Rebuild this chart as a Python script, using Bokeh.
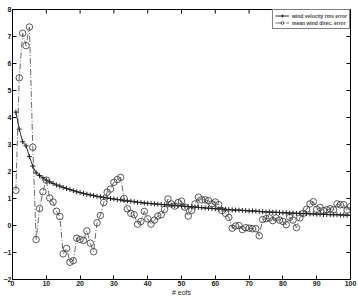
from bokeh.plotting import figure
from bokeh.models import Legend, LegendItem, FixedTicker, Range1d, ColumnDataSource
from bokeh.embed import file_html
from bokeh.resources import INLINE

n_eofs = list(range(1, 101))
vel_err = [4.2, 3.57, 3.1, 2.95, 2.55, 2.2, 1.95, 1.85, 1.76, 1.68,
           1.62, 1.56, 1.5, 1.46, 1.41, 1.37, 1.33, 1.29, 1.25, 1.22,
           1.19, 1.16, 1.13, 1.11, 1.08, 1.06, 1.04, 1.02, 1.0, 0.98,
           0.96, 0.95, 0.93, 0.91, 0.9, 0.88, 0.86, 0.85, 0.83, 0.82,
           0.81, 0.8, 0.79, 0.78, 0.77, 0.76, 0.75, 0.74, 0.73, 0.72,
           0.71, 0.7, 0.69, 0.68, 0.67, 0.66, 0.65, 0.64, 0.63, 0.62,
           0.61, 0.61, 0.6, 0.59, 0.58, 0.57, 0.57, 0.56, 0.55, 0.54,
           0.54, 0.53, 0.52, 0.51, 0.5, 0.5, 0.49, 0.49, 0.48, 0.47,
           0.47, 0.46, 0.46, 0.45, 0.45, 0.44, 0.44, 0.43, 0.43, 0.42,
           0.42, 0.41, 0.41, 0.4, 0.4, 0.4, 0.39, 0.39, 0.38, 0.38]
dir_err = [1.3, 5.47, 7.12, 6.66, 7.35, 2.9, -0.52, 0.63, 1.25, 1.68,
           1.02, 0.87, 0.53, 0.33, -1.05, -0.85, -1.36, -1.3, -0.47, -0.52,
           -0.55, -0.2, -0.65, -0.97, 0.1, 0.37, 0.85, 1.23, 1.35, 1.6,
           1.7, 1.78, 1.0, 0.62, 0.45, 0.4, 0.05, 0.15, 0.52, 0.25,
           0.05, 0.2, 0.35, 0.4, 0.6, 0.98, 0.8, 0.72, 0.85, 0.9,
           0.68, 0.35, 0.56, 0.8, 1.05, 0.95, 0.95, 0.92, 0.8, 0.87,
           0.77, 0.55, 0.45, 0.3, -0.1, -0.02, 0.0, -0.15, -0.08, -0.1,
           -0.12, -0.12, -0.38, 0.22, 0.25, 0.28, 0.18, 0.28, 0.2, 0.15,
           0.03, 0.3, 0.2, -0.08, 0.28, 0.45, 0.6, 0.8, 0.88, 0.6,
           0.67, 0.55, 0.58, 0.62, 0.58, 0.8, 0.77, 0.77, 0.57, 0.7]
x_ticks = list(range(0, 101, 10))
y_ticks = list(range(-2, 9))
series_names = ["wind velocity rms error", "mean wind direc. error"]
x_label = "# eofs"

X_MIN, X_MAX, Y_MIN, Y_MAX = 0, 100, -2, 8

src = ColumnDataSource(dict(x=n_eofs, v=vel_err, d=dir_err))

p = figure(width=358, height=298, x_range=Range1d(X_MIN, X_MAX), y_range=Range1d(Y_MIN, Y_MAX),
           output_backend="svg", toolbar_location=None,
           min_border_left=0, min_border_right=8, min_border_top=9, min_border_bottom=0)
p.grid.visible = False
p.outline_line_color = "black"
p.background_fill_color = "white"
p.border_fill_color = "white"

FONT = "Liberation Sans"
for ax, ticks in ((p.xaxis[0], x_ticks), (p.yaxis[0], y_ticks)):
    ax.ticker = FixedTicker(ticks=ticks)
    ax.major_tick_in = 4
    ax.major_tick_out = 0
    ax.minor_tick_line_color = None
    ax.major_label_text_font = FONT
    ax.major_label_text_font_size = "7px"
    ax.major_label_text_font_style = "bold"
    ax.major_label_text_color = "#222222"
    ax.axis_line_color = "black"
p.xaxis.major_label_standoff = 1
p.yaxis.major_label_standoff = 1
p.xaxis.axis_label = x_label
p.xaxis.axis_label_text_font = FONT
p.xaxis.axis_label_text_font_size = "7px"
p.xaxis.axis_label_text_font_style = "normal"
p.xaxis.axis_label_text_color = "#222222"
p.xaxis.axis_label_standoff = 0

# inward ticks on the top and right edges of the box (clipped to the frame)
p.scatter(x=x_ticks, y=[Y_MAX] * len(x_ticks), marker="dash", angle=1.5708, size=8,
          line_color="black", line_width=1)
p.scatter(x=[X_MAX] * len(y_ticks), y=y_ticks, marker="dash", size=8,
          line_color="black", line_width=1)

l1 = p.line("x", "v", source=src, line_color="#333333", line_width=1)
m1 = p.scatter("x", "v", source=src, marker="cross", size=5, line_color="#222222", line_width=1)
l2 = p.line("x", "d", source=src, line_color="#444444", line_width=0.8, line_dash="6 2 1 2")
m2 = p.scatter("x", "d", source=src, marker="circle", size=6.5, fill_color=None,
               line_color="#333333", line_width=0.8)

legend = Legend(items=[LegendItem(label=series_names[0], renderers=[l1, m1]),
                       LegendItem(label=series_names[1], renderers=[l2, m2])],
                location="top_right")
legend.label_text_font = FONT
legend.label_text_font_size = "5px"
legend.label_text_font_style = "bold"
legend.label_height = 7
legend.glyph_height = 7
legend.glyph_width = 14
legend.padding = 2
legend.spacing = 0
legend.margin = 0
legend.label_standoff = 3
legend.border_line_color = "black"
legend.border_line_width = 1
legend.background_fill_alpha = 1
p.add_layout(legend)

open("out.html", "w").write(file_html(p, INLINE))
